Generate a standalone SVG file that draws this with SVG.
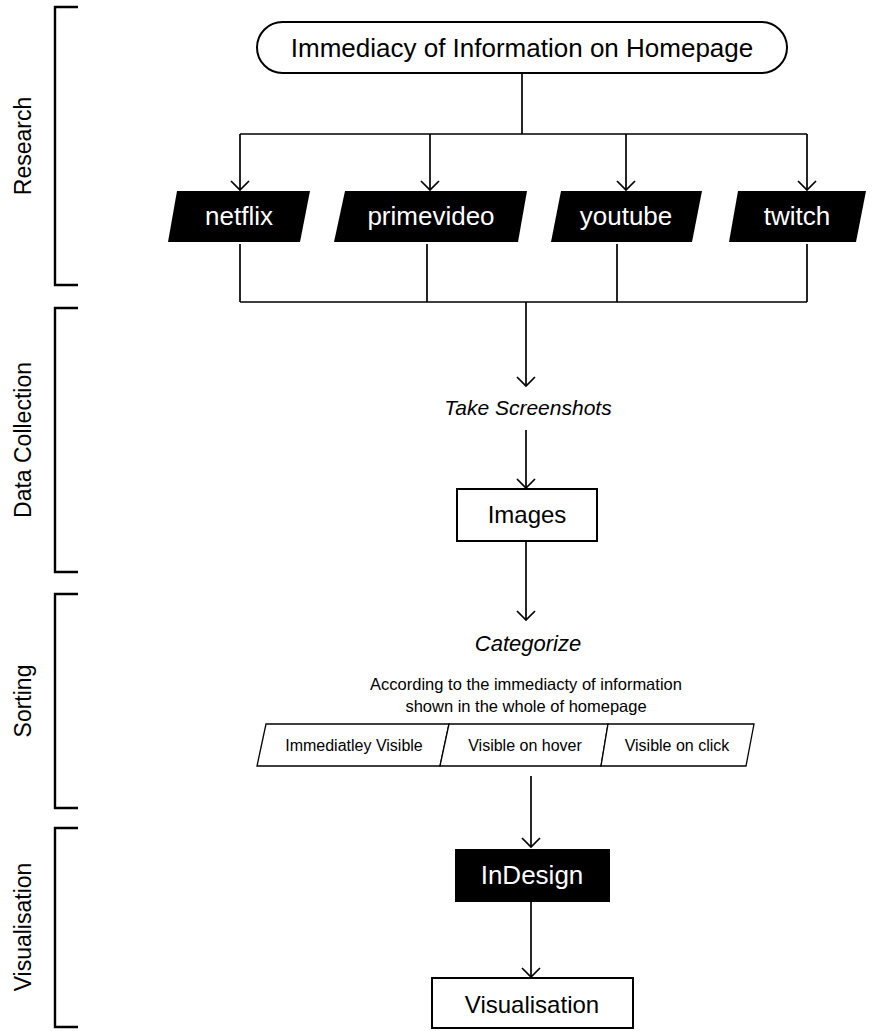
<svg xmlns="http://www.w3.org/2000/svg" width="874" height="1031" viewBox="0 0 874 1031">
<defs>
<marker id="arr" markerWidth="20" markerHeight="20" refX="10" refY="10" orient="auto" markerUnits="userSpaceOnUse">
<path d="M1,1 L10,10 L1,19" fill="none" stroke="#000" stroke-width="1.7"/>
</marker>
<style>
text{font-family:"Liberation Sans",Arial,sans-serif;fill:#000}
.br{fill:none;stroke:#000;stroke-width:2.4}
.lbl{font-size:23px;text-anchor:middle}
.c{fill:none;stroke:#000;stroke-width:1.7}
.a{fill:none;stroke:#000;stroke-width:1.7;marker-end:url(#arr)}
.dark{fill:#000}
.wt{fill:#fff;font-size:26px;text-anchor:middle}
.box{fill:#fff;stroke:#000;stroke-width:2}
.mid{text-anchor:middle}
.it{font-style:italic;text-anchor:middle}
.cat{fill:#fff;stroke:#000;stroke-width:1.3}
</style>
</defs>
<rect width="874" height="1031" fill="#fff"/>

<g id="stages">
<path class="br" d="M78,7 H55 V285 H78"/>
<text class="lbl" transform="translate(31,146) rotate(-90)">Research</text>
<path class="br" d="M78,308 H55 V572 H78"/>
<text class="lbl" transform="translate(31,440) rotate(-90)">Data Collection</text>
<path class="br" d="M78,594 H55 V808 H78"/>
<text class="lbl" transform="translate(31,701) rotate(-90)">Sorting</text>
<path class="br" d="M78,828 H55 V1027 H78"/>
<text class="lbl" transform="translate(31,927) rotate(-90)">Visualisation</text>
</g>

<g id="connectors">
<path class="c" d="M522,73 V134 M240,134 H807"/>
<path class="a" d="M240,134 V190"/>
<path class="a" d="M430,134 V190"/>
<path class="a" d="M626,134 V190"/>
<path class="a" d="M807,134 V190"/>
<path class="c" d="M240,244 V302 M427,244 V302 M617,244 V302 M807,244 V302 M240,302 H807"/>
<path class="a" d="M526,302 V386"/>
<path class="a" d="M526,430 V488"/>
<path class="a" d="M526,541 V620"/>
<path class="a" d="M531,776 V847"/>
<path class="a" d="M531,902 V977"/>
</g>

<g id="topic">
<rect class="box" x="257" y="22" width="530" height="51" rx="25.5"/>
<text class="mid" x="522" y="57" font-size="26">Immediacy of Information on Homepage</text>
</g>

<g id="netflix">
<polygon class="dark" points="177,191 310,191 300,242 168,242"/>
<text class="wt" x="239" y="225">netflix</text>
</g>
<g id="primevideo">
<polygon class="dark" points="345,191 527,191 518,242 334,242"/>
<text class="wt" x="431" y="225">primevideo</text>
</g>
<g id="youtube">
<polygon class="dark" points="561,191 702,191 692,242 551,242"/>
<text class="wt" x="626" y="225">youtube</text>
</g>
<g id="twitch">
<polygon class="dark" points="738,191 866,191 856,242 729,242"/>
<text class="wt" x="797" y="225">twitch</text>
</g>

<g id="take-screenshots">
<text class="it" x="528" y="415" font-size="21">Take Screenshots</text>
</g>

<g id="images">
<rect class="box" x="457" y="489" width="140" height="52"/>
<text class="mid" x="527" y="523" font-size="24">Images</text>
</g>

<g id="categorize">
<text class="it" x="528" y="651" font-size="22">Categorize</text>
<text class="mid" x="526" y="690" font-size="16.5">According to the immediacty of information</text>
<text class="mid" x="526" y="712" font-size="16.5">shown in the whole of homepage</text>
</g>

<g id="categories">
<polygon class="cat" points="266,724 449,724 440,766 257,766"/>
<polygon class="cat" points="449,724 608,724 601,766 440,766"/>
<polygon class="cat" points="608,724 754,724 746,766 601,766"/>
<text class="mid" x="354" y="751" font-size="16">Immediatley Visible</text>
<text class="mid" x="525" y="751" font-size="16">Visible on hover</text>
<text class="mid" x="677" y="751" font-size="16">Visible on click</text>
</g>

<g id="indesign">
<rect class="dark" x="455" y="849" width="155" height="53"/>
<text class="wt" x="532" y="884" font-size="25">InDesign</text>
</g>

<g id="visualisation">
<rect class="box" x="432" y="978" width="201" height="50"/>
<text class="mid" x="532" y="1013" font-size="24">Visualisation</text>
</g>
</svg>
